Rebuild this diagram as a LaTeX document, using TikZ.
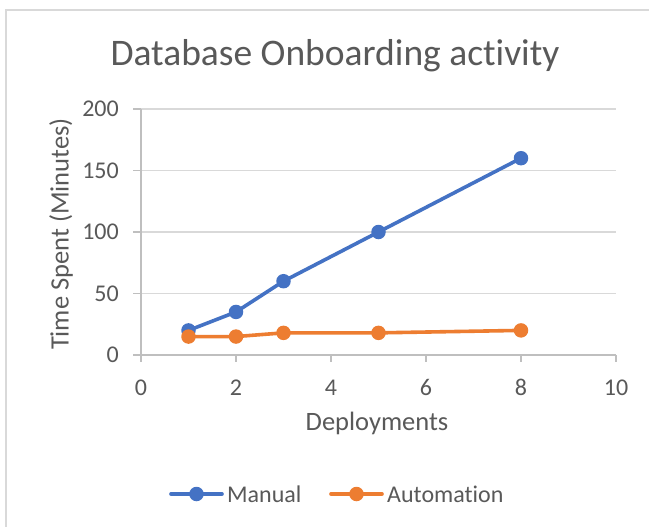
\documentclass[tikz,border=0pt]{standalone}
\usepackage{fontspec}
\setmainfont{Carlito}[Ligatures={NoCommon,NoDiscretionary}]
\definecolor{manualc}{HTML}{4472C4}
\definecolor{autoc}{HTML}{ED7D31}
\definecolor{gridc}{HTML}{D9D9D9}
\definecolor{axisc}{HTML}{BFBFBF}
\definecolor{txtc}{HTML}{595959}
\tikzset{
  gridline/.style={draw=gridc, line width=1.3pt},
  axisline/.style={draw=axisc, line width=1.3pt},
  ticklbl/.style={text=txtc, font=\fontsize{24}{28}\selectfont, inner sep=0pt},
  axtitle/.style={text=txtc, font=\fontsize{26.5}{30}\selectfont, inner sep=0pt},
  legtext/.style={text=txtc, font=\fontsize{24}{28}\selectfont, anchor=west, inner sep=0pt},
  series/.style={line width=3.6pt, line cap=round, line join=round},
  dot/.style={circle, fill=#1, inner sep=0pt, minimum size=14.5pt},
}
\begin{document}
\begin{tikzpicture}[x=1pt,y=-1pt]
\useasboundingbox (0,0) rectangle (649,527);
\fill[white] (0,0) rectangle (649,527);
% chart frame
\draw[draw=gridc, line width=1.5pt] (6,527) -- (6,10) -- (649,10);
% title
\node[text=txtc, font=\fontsize{37.5}{42}\selectfont, inner sep=0pt, anchor=base] (title) at (335,66) {Database Onboarding activity};
% axis titles
\node[axtitle, rotate=90] (ytitle) at (61,234) {Time Spent (Minutes)};
\node[axtitle] (xtitle) at (377,423) {Deployments};
% tick labels
\foreach \v/\xx in {0/141,2/236,4/331,6/426,8/521,10/616} {
  \node[ticklbl, anchor=base] (xl\v) at (\xx,395) {\v};
}
\foreach \v/\yy in {0/355,50/293.5,100/232,150/170.5,200/109} {
  \node[ticklbl, anchor=east] (yl\v) at (119,\yy) {\v};
}
\begin{scope}[shift={(141pt,-355pt)}, x=47.5pt, y=1.23pt]
  % gridlines
  \foreach \v in {50,100,150,200} {
    \draw[gridline] (0,\v) -- (10,\v);
    \draw[axisline] (-0.16,\v) -- (0,\v);
  }
  % axes
  \draw[axisline] (0,0) -- (0,200);
  \draw[axisline] (-0.16,0) -- (10,0);
  \foreach \v in {0,2,4,6,8,10} {
    \draw[axisline] (\v,0) -- (\v,-5.5);
  }
  % data points
  \coordinate (m1) at (1,20);
  \coordinate (m2) at (2,35);
  \coordinate (m3) at (3,60);
  \coordinate (m4) at (5,100);
  \coordinate (m5) at (8,160);
  \coordinate (a1) at (1,15);
  \coordinate (a2) at (2,15);
  \coordinate (a3) at (3,18);
  \coordinate (a4) at (5,18);
  \coordinate (a5) at (8,20);
  \draw[series, manualc] (m1) -- (m2) -- (m3) -- (m4) -- (m5);
  \foreach \p in {m1,m2,m3,m4,m5} \node[dot=manualc] at (\p) {};
  \draw[series, autoc] (a1) -- (a2) -- (a3) -- (a4) -- (a5);
  \foreach \p in {a1,a2,a3,a4,a5} \node[dot=autoc] at (\p) {};
\end{scope}
% legend
\coordinate (lm1) at (171,494);
\coordinate (lm2) at (222,494);
\draw[series, manualc] (lm1) -- (lm2);
\node[dot=manualc] (lmd) at (196.5,494) {};
\node[legtext] (lmt) at (227,494) {Manual};
\coordinate (la1) at (331,494);
\coordinate (la2) at (382,494);
\draw[series, autoc] (la1) -- (la2);
\node[dot=autoc] (lad) at (356.5,494) {};
\node[legtext] (lat) at (387,494) {Automation};
\end{tikzpicture}
\end{document}
